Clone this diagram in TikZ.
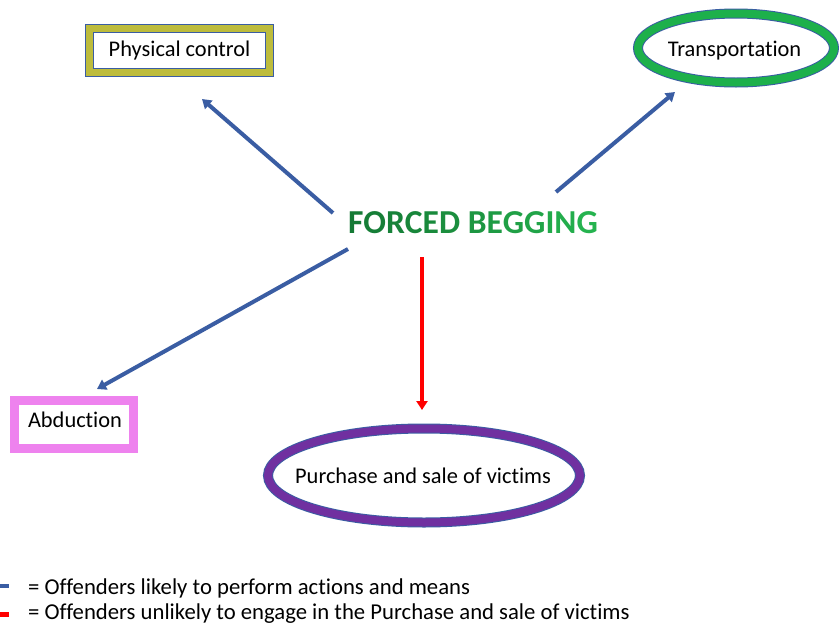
\documentclass[tikz,border=0pt]{standalone}
\usepackage{fontspec}
\setmainfont{Carlito}[Ligatures=NoCommon]
\usetikzlibrary{arrows.meta,shapes.geometric}
\definecolor{linkblue}{HTML}{3A5DA3}
\definecolor{ringblue}{HTML}{3A5DA3}
\definecolor{olivering}{HTML}{BDBC3C}
\definecolor{greenring}{HTML}{1DB04B}
\definecolor{purplering}{HTML}{7030A0}
\definecolor{pinkring}{HTML}{EE82EE}
\definecolor{titledark}{HTML}{157A35}
\definecolor{titlelight}{HTML}{25B34F}
\newcommand{\gradletter}[2]{\textcolor{titlelight!#1!titledark}{#2}}
\tikzset{
  label/.style={font=\fontsize{22.4}{26}\selectfont, inner sep=0pt, anchor=base},
  ringed/.style={draw=ringblue, line width=1pt, double=#1, inner sep=0pt},
  link/.style={draw=linkblue, line width=4pt, -{Triangle[length=9pt,width=11pt]}},
  redlink/.style={draw=red, line width=4pt, -{Triangle[length=9pt,width=11pt]}},
  legendtext/.style={font=\fontsize{22.7}{26}\selectfont, anchor=base west, inner sep=0pt},
}
\begin{document}
\begin{tikzpicture}[x=1pt,y=-1pt]
\useasboundingbox (0,0) rectangle (839,627);
\fill[white] (0,0) rectangle (839,627);

% Outcome nodes
\node[ringed=olivering, double distance=7pt, rectangle,
      minimum width=180pt, minimum height=44pt] (phys) at (179.5,50.5) {};
\node[label] (physt) at (179.5,56) {Physical control};

\node[ringed=greenring, double distance=8pt, ellipse,
      minimum width=196pt, minimum height=69pt] (trans) at (736,48) {};
\node[label] (transt) at (734.5,56) {Transportation};

\node[draw=pinkring, line width=9pt, rectangle, inner sep=0pt,
      minimum width=119pt, minimum height=48pt] (abd) at (74,424.5) {};
\node[label] (abdt) at (75,427) {Abduction};

\node[ringed=purplering, double distance=8pt, ellipse,
      minimum width=312pt, minimum height=94pt] (buy) at (424,475.5) {};
\node[label] (buyt) at (423,483) {Purchase and sale of victims};

% Central node
\node[font=\fontsize{33.5}{38}\bfseries\selectfont, inner sep=0pt, anchor=base] (fb) at (473,233.3)
  {\gradletter{0}{F}\gradletter{7}{O}\gradletter{14}{R}\gradletter{21}{C}\gradletter{28}{E}\gradletter{35}{D}
   \gradletter{50}{B}\gradletter{58}{E}\gradletter{66}{G}\gradletter{74}{G}\gradletter{82}{I}\gradletter{90}{N}\gradletter{100}{G}};

% Connector end points
\coordinate (fbnw) at (333,213);
\coordinate (fbne) at (556,192);
\coordinate (fbsw) at (348,249);
\coordinate (fbs)  at (422,257);
\coordinate (physin) at (202,99);
\coordinate (transin) at (675,92);
\coordinate (abdin) at (97,389);
\coordinate (buyin) at (422,410);

\draw[link] (fbnw) -- (physin);
\draw[link] (fbne) -- (transin);
\draw[link] (fbsw) -- (abdin);
\draw[redlink] (fbs) -- (buyin);

% Legend
\coordinate (kb1) at (0,586);
\coordinate (kb2) at (9,586);
\coordinate (kr1) at (0,614.5);
\coordinate (kr2) at (9,614.5);
\draw[draw=linkblue, line width=4.5pt] (kb1) -- (kb2);
\draw[draw=red, line width=5pt] (kr1) -- (kr2);
\node[legendtext] (lg1) at (28,594) {= Offenders likely to perform actions and means};
\node[legendtext] (lg2) at (28,619) {= Offenders unlikely to engage in the Purchase and sale of victims};
\end{tikzpicture}
\end{document}
